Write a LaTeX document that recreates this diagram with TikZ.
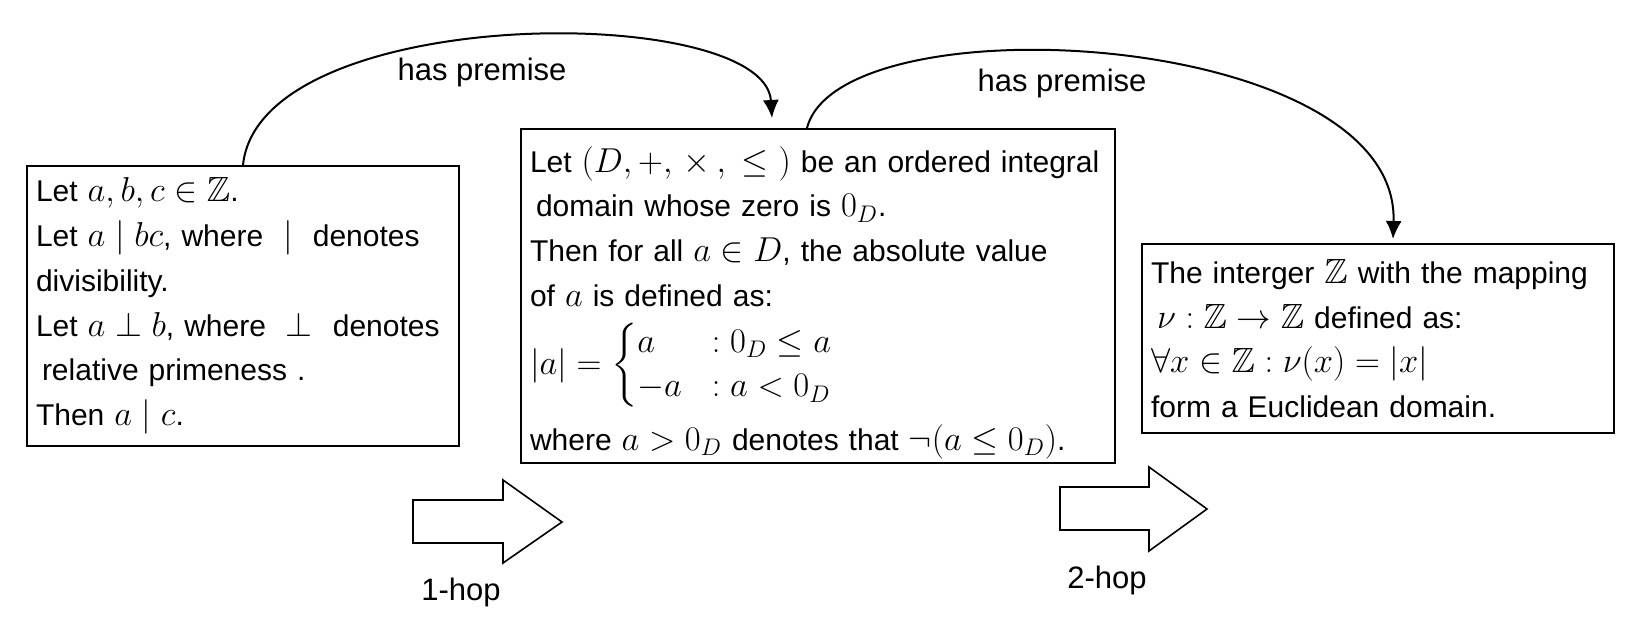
\documentclass[tikz,border=0pt]{standalone}
\usepackage{amsmath,amssymb}
\usepackage{fontspec}
\setmainfont{Liberation Sans}
\usetikzlibrary{arrows.meta,positioning}
\DeclareMathSizes{15}{17.5}{12.5}{10}

\tikzset{
  stmt/.style={draw, line width=1pt, inner xsep=4.5pt, inner ysep=0pt, align=left,
    font=\fontsize{15}{22.4}\selectfont},
  hop/.style={draw, line width=0.8pt},
  lbl/.style={font=\fontsize{15.5}{18}\selectfont},
}

\begin{document}
\begin{tikzpicture}[x=0.5pt, y=-0.5pt, >={Latex[length=9pt,width=8pt]}]
    \useasboundingbox (0,0) rectangle (1644,620);

    %theorems
    \node[stmt, text width=207pt, minimum height=140pt] (lbox) at (243,306)
      {Let $a,b,c\in\mathbb{Z}$.\\
       Let $a\mid bc$, where $\ \mid\ $ denotes\\
       divisibility.\\
       Let $a\perp b$, where $\ \perp\ $ denotes\\
       \hspace*{3pt}relative primeness .\\
       Then $a\mid c$.};
    \node[stmt, text width=288pt, minimum height=167pt] (mbox) at (818,296)
      {\rule{0pt}{19.5pt}Let $(D,+,\,\times\,,\ \leq\ )$ be an ordered integral\\
       \hspace*{3pt}domain whose zero is $0_D$.\\
       Then for all $a\in D$, the absolute value\\
       of $a$ is defined as:\\[6pt]
       {$|a| = \left\{\begin{array}{@{}l@{\quad}l@{}} a & :0_D\leq a\\ -a & :a<0_D\end{array}\right.$}\\[6pt]
       where $a>0_D$ denotes that $\neg(a\leq 0_D)$.};
    \node[stmt, text width=227pt, minimum height=94.5pt] (rbox) at (1378,338.5)
      {The interger $\mathbb{Z}$ with the mapping\\
       \hspace*{3pt}$\nu:\mathbb{Z}\to\mathbb{Z}$ defined as:\\
       $\forall x\in\mathbb{Z}:\nu(x)=|x|$\\
       form a Euclidean domain.};

    %premises
    \draw[->, line width=1pt] (lbox.north) .. controls +(17,-163) and +(-7,-116) .. ([xshift=-23pt,yshift=5pt]mbox.north);
    \node[lbl] (prema) at (482,72) {has premise};
    \draw[->, line width=1pt] ([xshift=-5.5pt]mbox.north) .. controls +(33,-129) and +(7,-210) .. ([xshift=7.5pt,yshift=2pt]rbox.north);
    \node[lbl] (premb) at (1062,83) {has premise};

    %hops
    \draw[hop] (413,500) -- (503,500) -- (503,480) -- (562,522) -- (503,563) -- (503,543) -- (413,543) -- cycle;
    \node[lbl] (hopa) at (461,592) {1-hop};
    \draw[hop] (1060,487) -- (1149,487) -- (1149,467) -- (1207,509) -- (1149,551) -- (1149,530) -- (1060,530) -- cycle;
    \node[lbl] (hopb) at (1107,580) {2-hop};
\end{tikzpicture}
\end{document}
